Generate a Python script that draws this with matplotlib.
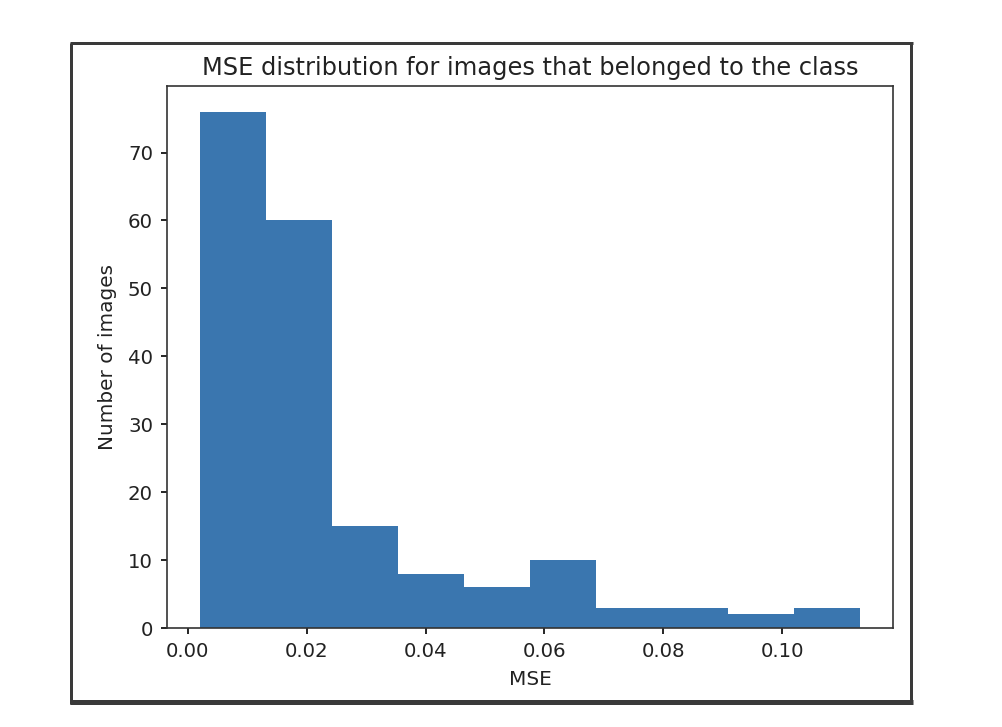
import numpy as np
import matplotlib
matplotlib.use('Agg')
import matplotlib.pyplot as plt
from matplotlib.lines import Line2D

# Contagens de cada barra do histograma
contagens = [76, 60, 15, 8, 6, 10, 3, 3, 2, 3]
# Limites das classes (10 classes iguais entre o min e o max do MSE)
bordas = [0.00207, 0.01317, 0.02427, 0.03537, 0.04647, 0.05757,
          0.06867, 0.07977, 0.09087, 0.10197, 0.11307]

centros = [(bordas[i] + bordas[i + 1]) / 2 for i in range(len(contagens))]

fig = plt.figure(figsize=(10.02, 7.27), dpi=100)
ax = fig.add_axes([167 / 1002, 1 - 628 / 727, (893 - 167) / 1002, (628 - 86) / 727])

ax.hist(centros, bins=bordas, weights=contagens, color='#3a76af')
ax.set_title('MSE distribution for images that belonged to the class', fontsize=17.4, color='#222222', pad=8)
ax.set_xlabel('MSE', fontsize=14.4, color='#222222', labelpad=6.5)
ax.set_ylabel('Number of images', fontsize=14.4, color='#222222', labelpad=8)
ax.tick_params(labelsize=14.2, labelcolor='#222222', length=4.6, width=1.2, pad=5.5)
for s in ax.spines.values():
    s.set_linewidth(1.2)
    s.set_color('#333333')

# Moldura escura em volta da figura (como na captura de tela)
W, H = 1002, 727
def linha(x0, y0, x1, y1, lw):
    fig.add_artist(Line2D([x0 / W, x1 / W], [1 - y0 / H, 1 - y1 / H],
                          transform=fig.transFigure, color='#3a3a3a', lw=lw * 0.72,
                          solid_capstyle='butt'))
linha(69.5, 43, 912.5, 43, 3)
linha(71, 43, 71, 704, 3)
linha(911, 43, 911, 704, 3)
linha(69.5, 701.5, 912.5, 701.5, 5)

fig.savefig('out.png', dpi=100)
